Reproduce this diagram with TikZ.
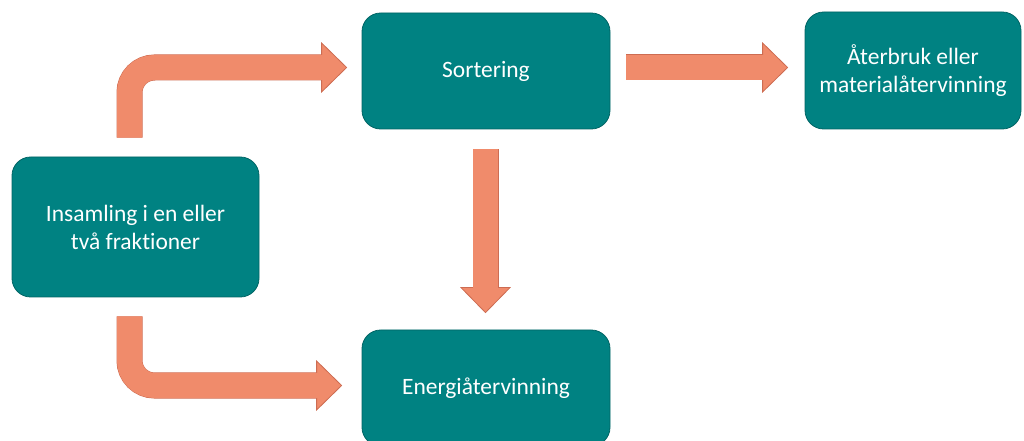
\documentclass[tikz,border=0pt]{standalone}
\usepackage{fontspec}
\setmainfont{Carlito}[Ligatures=NoCommon]
\usetikzlibrary{calc}
\definecolor{boxteal}{RGB}{0,130,130}
\definecolor{boxedge}{RGB}{0,100,100}
\definecolor{arrowfill}{RGB}{240,139,107}
\definecolor{arrowedge}{RGB}{205,108,82}

\begin{document}
\begin{tikzpicture}[x=0.75pt, y=-0.75pt,
box/.style={draw=boxedge, line width=0.6pt, fill=boxteal, rounded corners=14pt, text=white, align=center, inner sep=0pt, font=\fontsize{17.6}{21}\selectfont},
body/.style={draw=arrowfill, line width=18.75pt, preaction={draw=arrowedge, line width=19.5pt, shorten >=1.5pt}},
head/.style={fill=arrowfill, draw=arrowedge, line width=0.6pt, line join=miter}
]
\useasboundingbox (0,0) rectangle (1024,441);

% boxes
\node[box, minimum width=185.25pt, minimum height=105pt] (ins) at (135.5,227) {Insamling i en eller\\två fraktioner};
\node[box, minimum width=186pt, minimum height=87pt] (sort) at (486,71) {Sortering};
\node[box, minimum width=186pt, minimum height=87pt] (energi) at (486,388) {Energiåtervinning};
\node[box, minimum width=162pt, minimum height=87.75pt] (ater) at (913,70.5) {Återbruk eller\\materialåtervinning};

% arrow ends
\coordinate (a1s) at ($(ins.north)+(-6,-19)$);
\coordinate (a1e) at ($(sort.west)+(-40,-3.5)$);
\coordinate (a2s) at ($(ins.south)+(-6,19)$);
\coordinate (a2e) at ($(energi.west)+(-45,-2.5)$);
\coordinate (a3s) at ($(sort.east)+(16,-3.5)$);
\coordinate (a3e) at ($(ater.west)+(-42,-3)$);
\coordinate (a4s) at ($(sort.south)+(-0.5,20)$);
\coordinate (a4e) at ($(energi.north)+(-0.5,-42)$);

% block arrows: head first, then the shaft over its base
\filldraw[head] ($(a1e)+(0,-24.5)$) -- ($(a1e)+(25,0)$) -- ($(a1e)+(0,24.5)$) -- cycle;
\draw[body, rounded corners=18.75pt] (a1s) |- ($(a1e)+(2,0)$);

\filldraw[head] ($(a2e)+(0,-24.5)$) -- ($(a2e)+(25,0)$) -- ($(a2e)+(0,24.5)$) -- cycle;
\draw[body, rounded corners=18.75pt] (a2s) |- ($(a2e)+(2,0)$);

\filldraw[head] ($(a3e)+(0,-24.5)$) -- ($(a3e)+(25,0)$) -- ($(a3e)+(0,24.5)$) -- cycle;
\draw[body] (a3s) -- ($(a3e)+(2,0)$);

\filldraw[head] ($(a4e)+(-24.5,0)$) -- ($(a4e)+(0,25)$) -- ($(a4e)+(24.5,0)$) -- cycle;
\draw[body] (a4s) -- ($(a4e)+(0,2)$);
\end{tikzpicture}
\end{document}
